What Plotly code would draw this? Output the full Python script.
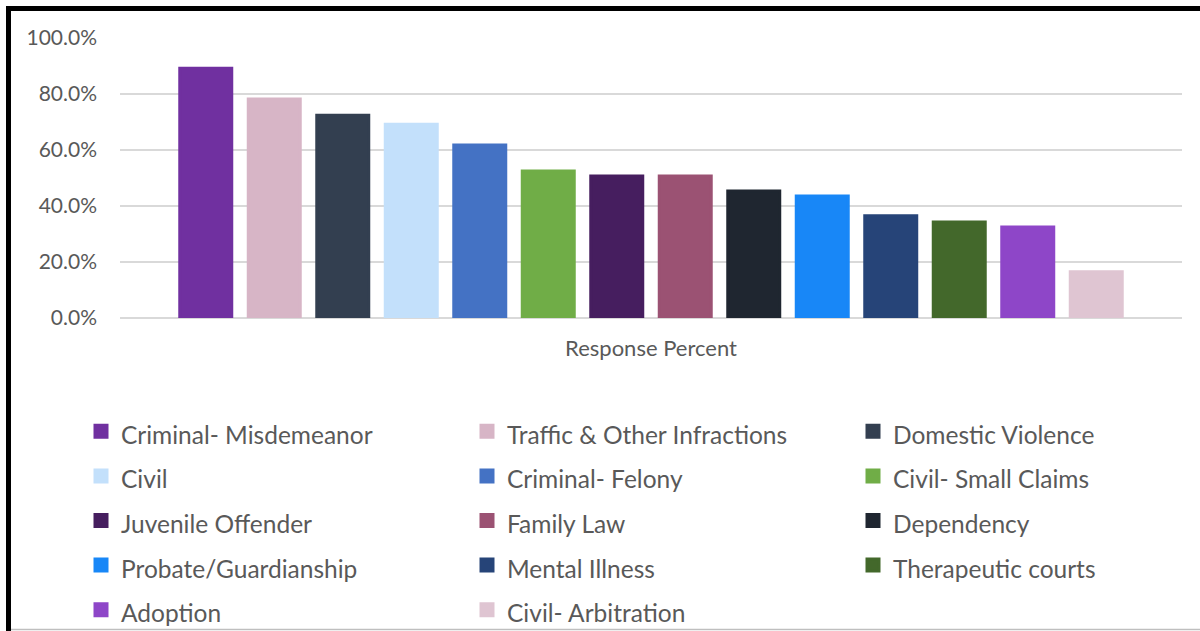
import plotly.graph_objects as go

# Survey results: share of respondents handling each case type
case_types = [
    "Criminal- Misdemeanor", "Traffic & Other Infractions", "Domestic Violence",
    "Civil", "Criminal- Felony", "Civil- Small Claims",
    "Juvenile Offender", "Family Law", "Dependency",
    "Probate/Guardianship", "Mental Illness", "Therapeutic courts",
    "Adoption", "Civil- Arbitration",
]
response_percent = [
    0.892, 0.782, 0.724, 0.692, 0.618, 0.525,
    0.507, 0.507, 0.454, 0.436, 0.365, 0.343,
    0.325, 0.165,
]
bar_colors = [
    "#7030a0", "#d7b5c6", "#333f50", "#c3e0fb", "#4472c4", "#70ad47",
    "#461e5f", "#9b5273", "#1f2630", "#1887f7", "#264478", "#43682b",
    "#8e46c8", "#dfc5d2",
]
category = "Response Percent"
y_ticks = [0, 0.2, 0.4, 0.6, 0.8, 1.0]

FONT = "Lato"
TEXT = "#595959"
LEGEND_TEXT_PX = 24.5   # visible size of legend labels
LEGEND_ROW_PX = 32      # nominal legend font size, sets the row pitch

fig = go.Figure()
for name, val, col in zip(case_types, response_percent, bar_colors):
    fig.add_trace(go.Bar(
        x=[category], y=[val],
        name=f'<span style="font-size:{LEGEND_TEXT_PX}px">{name}</span>',
        marker=dict(color=col, line=dict(color=col, width=3)),
    ))

W, H = 1200, 631
L, R, T, B = 120, 18, 38, 313
pw, ph = W - L - R, H - T - B


def px_x(px):
    return (px - L) / pw


def px_y(py):
    return (H - B - py) / ph


fig.update_layout(
    width=W, height=H,
    margin=dict(l=L, r=R, t=T, b=B, autoexpand=False),
    paper_bgcolor="white", plot_bgcolor="white",
    barmode="group", bargap=0.097, bargroupgap=0.241,
    font=dict(family=FONT, color=TEXT),
    showlegend=True,
    legend=dict(
        orientation="h", traceorder="normal",
        x=px_x(87), xanchor="left", y=px_y(404), yanchor="top",
        entrywidth=347, entrywidthmode="pixels", indentation=-6,
        font=dict(family=FONT, size=LEGEND_ROW_PX, color=TEXT),
        bgcolor="rgba(0,0,0,0)",
    ),
    xaxis=dict(
        showline=False, showgrid=False, ticks="", ticklabelstandoff=15,
        tickfont=dict(family=FONT, size=22, color=TEXT),
    ),
    yaxis=dict(
        range=[0, 1.0], tickvals=y_ticks, tickformat=".1%",
        showgrid=True, gridcolor="#d9d9d9", gridwidth=1.5,
        zeroline=True, zerolinecolor="#d9d9d9", zerolinewidth=1.5,
        showline=False, ticks="", ticklabelstandoff=22,
        tickfont=dict(family=FONT, size=21, color=TEXT),
    ),
    shapes=[
        # frame: heavy top and left edges, light bottom edge
        dict(type="rect", xref="paper", yref="paper", layer="above",
             x0=px_x(6), x1=px_x(1201), y0=px_y(6), y1=px_y(11),
             fillcolor="black", line=dict(width=0)),
        dict(type="rect", xref="paper", yref="paper", layer="above",
             x0=px_x(6), x1=px_x(11), y0=px_y(6), y1=px_y(632),
             fillcolor="black", line=dict(width=0)),
        dict(type="line", xref="paper", yref="paper", layer="above",
             x0=px_x(11), x1=px_x(1201), y0=px_y(629.5), y1=px_y(629.5),
             line=dict(color="#bfbfbf", width=1.5)),
    ],
)

fig.write_html("out.html")
